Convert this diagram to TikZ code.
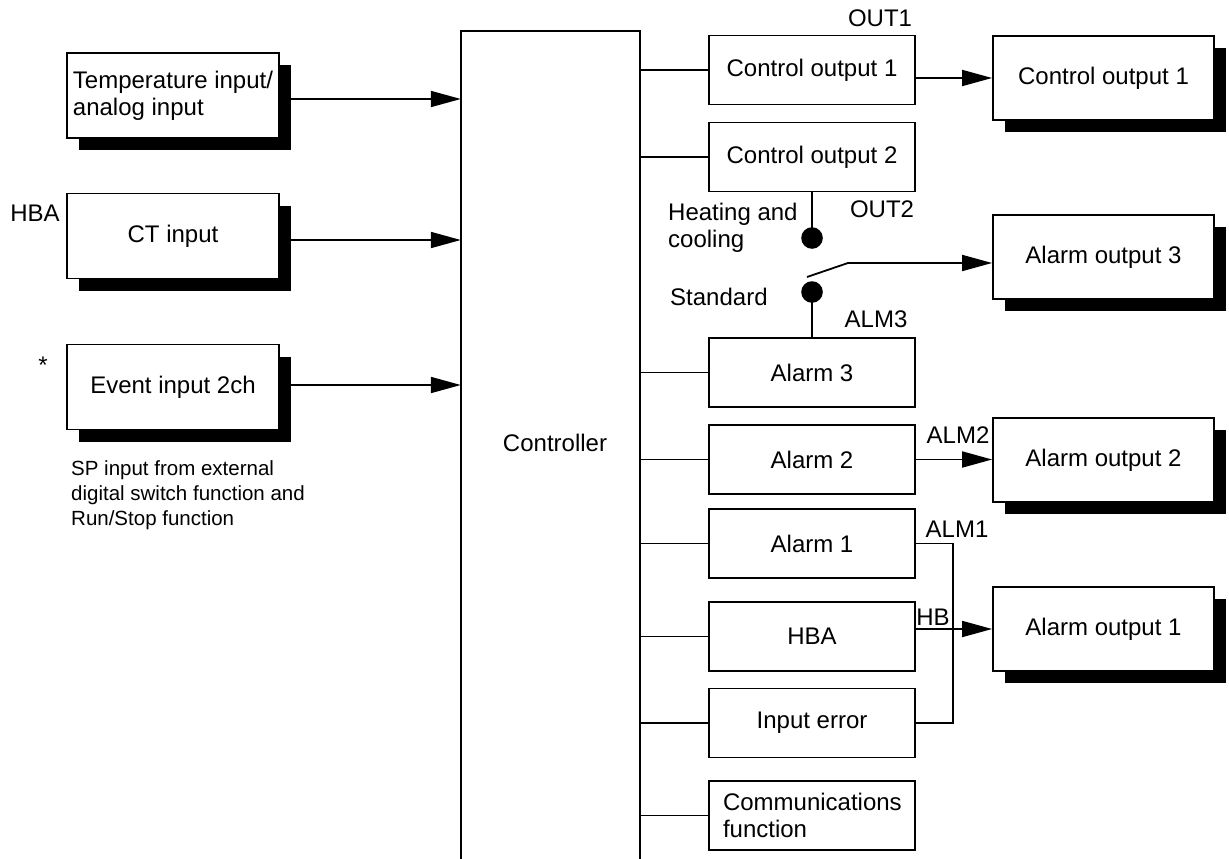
\documentclass[tikz,border=0pt]{standalone}
\usepackage{fontspec}
\setmainfont{Liberation Sans}
\usetikzlibrary{arrows.meta,shadows,calc}
\begin{document}
\begin{tikzpicture}[x=1pt,y=-1pt,
  font=\fontsize{24}{27}\selectfont,
  lw/.style={line width=1.8pt},
  box/.style={draw,lw,fill=white,minimum width=206pt,minimum height=69pt,inner sep=0pt},
  sbox/.style={draw,lw,fill=white,general shadow={fill=black,shadow xshift=12pt,shadow yshift=-12pt},inner sep=0pt},
  inbox/.style={sbox,minimum width=212pt,minimum height=85pt},
  outbox/.style={sbox,minimum width=221pt,minimum height=84pt},
  arr/.style={lw,-{Triangle[length=30pt,width=16pt]}},
  con/.style={lw},
  lbl/.style={inner sep=0pt},
  smalltext/.style={inner sep=0pt,align=left,font=\fontsize{20.5}{25}\selectfont},
]
\useasboundingbox (0,0) rectangle (1229,859);

% controller
\node[minimum width=179pt,minimum height=828pt,inner sep=0pt] (ctrl) at (550.5,445) {};
\draw[con,line join=miter] (ctrl.south west) -- (ctrl.north west) -- (ctrl.north east) -- (ctrl.south east);
\node[lbl] (ctrltxt) at (555,443) {Controller};

% inputs
\node[inbox,align=left] (temp) at (173,95.5) {Temperature input/\\analog input};
\node[inbox] (ct) at (173,236) {CT input};
\node[inbox] (ev) at (173,387) {Event input 2ch};
\node[lbl] (hbal) at (35,213) {HBA};
\node[lbl,anchor=base] (ast) at (43,373) {*};
\node[smalltext,anchor=west] (sp) at (71,495) {SP input from external\\digital switch function and\\Run/Stop function};

\draw[arr] ([yshift=-3.5pt]temp.east) -- ([yshift=-3.5pt]temp.east -| ctrl.west);
\draw[arr] ([yshift=-4pt]ct.east) -- ([yshift=-4pt]ct.east -| ctrl.west);
\draw[arr] ([yshift=2pt]ev.east) -- ([yshift=2pt]ev.east -| ctrl.west);

% internal function blocks
\node[box] (co1) at (812,70) {Control output 1};
\node[box] (co2) at (812,157) {Control output 2};
\node[box] (al3) at (812,372.5) {Alarm 3};
\node[box] (al2) at (812,459.5) {Alarm 2};
\node[box] (al1) at (812,543.5) {Alarm 1};
\node[box] (hba) at (812,636.5) {HBA};
\node[box] (ie) at (812,723) {Input error};
\node[box,text width=178pt,align=left] (comm) at (812,815.5) {Communications\\function};

\foreach \n in {co1,co2,al3,al2,al1,hba,ie,comm}
  \draw[con] (ctrl.east |- \n.west) -- (\n.west);

% outputs
\node[outbox] (aoc1) at (1103.5,78) {Control output 1};
\node[outbox] (ao3) at (1103.5,257) {Alarm output 3};
\node[outbox] (ao2) at (1103.5,460) {Alarm output 2};
\node[outbox] (ao1) at (1103.5,629) {Alarm output 1};

\draw[arr] (co1.east |- aoc1.west) -- (aoc1.west);
\draw[arr] (al2.east) -- (al2.east -| ao2.west);
\draw[arr] (hba.east |- ao1.west) -- (ao1.west);

% switch for OUT2 / ALM3
\node[circle,fill=black,minimum size=21.6pt,inner sep=0pt] (d1) at (812,238) {};
\node[circle,fill=black,minimum size=21.6pt,inner sep=0pt] (d2) at (812,292) {};
\draw[con] (co2.south) -- (d1.center);
\draw[con] (d2.center) -- (al3.north);
\coordinate (sw1) at (807,277);
\coordinate (sw2) at (848,263);
\draw[con] (sw1) -- (sw2);
\draw[arr] (sw2) -- (sw2 -| ao3.west);

% ALM1 collector
\coordinate (j) at (953,0);
\draw[con,line join=miter] (al1.east) -- (al1.east -| j) -- (ie.east -| j) -- (ie.east);

% labels
\node[lbl] (out1) at (880,18) {OUT1};
\node[lbl] (out2) at (882,209) {OUT2};
\node[lbl] (alm3) at (876,319) {ALM3};
\node[lbl] (alm2) at (958,435) {ALM2};
\node[lbl] (alm1) at (957,529) {ALM1};
\node[lbl] (hb) at (933,617) {HB};
\node[lbl,anchor=west,align=left] (heat) at (668,228) {Heating and\\cooling};
\node[lbl,anchor=west] (std) at (670,297) {Standard};
\end{tikzpicture}
\end{document}
